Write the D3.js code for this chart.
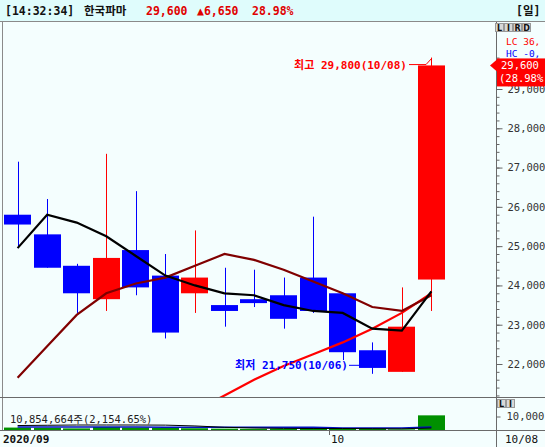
<!DOCTYPE html>
<html>
<head>
<meta charset="utf-8">
<script src="https://cdn.jsdelivr.net/npm/d3@7"></script>
<style>
  body { margin: 0; background: #f4fefe; }
  svg { display: block; }
  .mono { font-family: "DejaVu Sans Mono", "Noto Sans CJK KR", monospace; }
</style>
</head>
<body>
<div id="chart"></div>
<script>
// daily candles, 2020-09-15 .. 2020-10-08
const dates = ['09/15', '09/16', '09/17', '09/18', '09/21', '09/22', '09/23', '09/24', '09/25', '09/28', '09/29', '10/05', '10/06', '10/07', '10/08']
const opens = [25800, 25300, 24500, 23650, 24900, 24250, 23800, 23500, 23650, 23750, 24200, 23800, 22350, 21800, 24150]
const highs = [27150, 26200, 24550, 27350, 26400, 24800, 25400, 24450, 24400, 24200, 25750, 23800, 22550, 23950, 29800]
const lows = [25000, 24450, 23300, 23350, 23750, 22650, 23300, 22950, 23450, 22900, 23300, 22100, 21750, 21800, 23350]
const closes = [25550, 24450, 23800, 24700, 23950, 22800, 24200, 23350, 23550, 23150, 23350, 22300, 21900, 22950, 29600]

const ma5 = [24950, 25800, 25600, 25250, 24750, 24250, 24000, 23800, 23750, 23500, 23350, 23300, 22900, 22850, 23850]
const ma20 = [21650, 22450, 23250, 23800, 24050, 24200, 24500, 24800, 24650, 24400, 24100, 23800, 23450, 23350, 23750]
const ma60 = [null, null, null, null, null, null, 20800, 21200, 21600, 21950, 22250, 22550, 22900, 23300, 23800]

// volume in thousand shares
const volumes = [1800, 1600, 1200, 2200, 1800, 1500, 1300, 1000, 900, 1100, 2000, 1200, 1100, 504, 10855]
const volMaA = [3300, 3500, 3700, 3700, 3700, 3600, 3000, 2000, 1500, 1200, 1100, 1100, 1000, 900, 1500]
const volMaB = [2300, 2300, 2200, 2200, 2200, 2100, 2100, 2000, 2000, 2000, 2000, 1500, 1500, 1500, 2200]

const priceTicks = [22000, 23000, 24000, 25000, 26000, 27000, 28000, 29000]
const volTicks = [10000]
const monthLabels = [{ date: '09/15', text: '2020/09' }, { date: '10/05', text: '10' }]

const width = 545
const height = 447
const axisX = 496
const mainTop = 22
const mainBottom = 397
const volBottom = 430
const upColor = '#ff0000'
const downColor = '#0000ff'

let svg = d3.select('#chart')
            .append('svg')
            .attr('width', width)
            .attr('height', height)

svg.append('rect')
   .attr('width', width)
   .attr('height', height)
   .attr('fill', '#f4fefe')

// header
svg.append('rect')
   .attr('width', width)
   .attr('height', 21)
   .attr('fill', '#dffcfc')
svg.append('line')
   .attr('x1', 0).attr('x2', width)
   .attr('y1', 21.5).attr('y2', 21.5)
   .attr('stroke', '#8a8a8a')

const header = [
  { x: 5, text: '[14:32:34]', color: '#111' },
  { x: 84, text: '한국파마', color: '#111' },
  { x: 146, text: '29,600', color: '#e00000' },
  { x: 197, text: '▲6,650', color: '#e00000' },
  { x: 252, text: '28.98%', color: '#e00000' },
  { x: 516, text: '[일]', color: '#111' }
]
svg.selectAll('.head')
   .data(header)
   .enter()
   .append('text')
   .attr('class', 'head mono')
   .attr('x', d => d.x)
   .attr('y', 15)
   .attr('fill', d => d.color)
   .style('font-size', '11.5px')
   .style('font-weight', 'bold')
   .text(d => d.text)

// scales
let xScale = d3.scaleBand()
               .domain(dates)
               .range([4, 445])
               .paddingInner(0.08)
let bw = xScale.bandwidth()
let cx = d => Math.round(xScale(d) + bw / 2) + 0.5

let yScale = d3.scaleLinear()
               .domain([22000, 29000])
               .range([364, 89])

let vScale = d3.scaleLinear()
               .domain([0, 10000])
               .range([volBottom, 416.5])

svg.append('clipPath')
   .attr('id', 'mainClip')
   .append('rect')
   .attr('x', 3).attr('y', mainTop)
   .attr('width', axisX - 3).attr('height', mainBottom - mainTop)

let plot = svg.append('g').attr('clip-path', 'url(#mainClip)')

// candles
let candles = dates.map((d, i) => ({ d: d, o: opens[i], h: highs[i], l: lows[i], c: closes[i] }))

plot.selectAll('.wick')
    .data(candles)
    .enter()
    .append('line')
    .attr('class', 'wick')
    .attr('x1', d => cx(d.d)).attr('x2', d => cx(d.d))
    .attr('y1', d => yScale(d.h)).attr('y2', d => yScale(d.l))
    .attr('stroke', d => d.c >= d.o ? upColor : downColor)

plot.selectAll('.body')
    .data(candles)
    .enter()
    .append('rect')
    .attr('class', 'body')
    .attr('x', d => Math.round(xScale(d.d)))
    .attr('width', Math.round(bw))
    .attr('y', d => yScale(Math.max(d.o, d.c)))
    .attr('height', d => Math.max(1, Math.abs(yScale(d.o) - yScale(d.c))))
    .attr('fill', d => d.c >= d.o ? upColor : downColor)

// moving averages
let maLine = d3.line()
               .defined(d => d.v != null)
               .x(d => xScale(d.d) + bw / 2)
               .y(d => yScale(d.v))

const maSeries = [
  { values: ma60, color: '#ff0000' },
  { values: ma20, color: '#800000' },
  { values: ma5, color: '#000000' }
]
maSeries.forEach(s => {
  plot.append('path')
      .datum(dates.map((d, i) => ({ d: d, v: s.values[i] })))
      .attr('d', maLine)
      .attr('fill', 'none')
      .attr('stroke', s.color)
      .attr('stroke-width', 2.2)
})

// high / low markers
let hiIdx = highs.indexOf(d3.max(highs))
let loIdx = lows.indexOf(d3.min(lows))
let hiY = yScale(highs[hiIdx])
let loY = yScale(lows[loIdx])

plot.append('text')
    .attr('class', 'mono')
    .attr('x', 407).attr('y', hiY + 11)
    .attr('text-anchor', 'end')
    .attr('fill', '#ff0000')
    .style('font-size', '11px')
    .style('font-weight', 'bold')
    .text('최고 ' + d3.format(',')(highs[hiIdx]) + '(' + dates[hiIdx] + ')')
plot.append('polyline')
    .attr('points', [[409, hiY + 7], [426, hiY + 7], [cx(dates[hiIdx]), hiY + 1]].join(' '))
    .attr('fill', 'none')
    .attr('stroke', '#ff0000')

plot.append('text')
    .attr('class', 'mono')
    .attr('x', 348).attr('y', loY - 5)
    .attr('text-anchor', 'end')
    .attr('fill', '#0000ff')
    .style('font-size', '11px')
    .style('font-weight', 'bold')
    .text('최저 ' + d3.format(',')(lows[loIdx]) + '(' + dates[loIdx] + ')')
plot.append('line')
    .attr('x1', 349).attr('x2', Math.round(xScale(dates[loIdx])))
    .attr('y1', loY - 8.5).attr('y2', loY - 8.5)
    .attr('stroke', '#0000ff')

// volume panel
svg.selectAll('.vol')
   .data(volumes)
   .enter()
   .append('rect')
   .attr('class', 'vol')
   .attr('x', (d, i) => Math.round(xScale(dates[i])))
   .attr('width', Math.round(bw))
   .attr('y', d => vScale(d))
   .attr('height', d => volBottom - vScale(d))
   .attr('fill', '#009000')

let volLine = d3.line()
                .x((d, i) => xScale(dates[i]) + bw / 2)
                .y(d => vScale(d))
svg.append('path')
   .datum(volMaB)
   .attr('d', volLine)
   .attr('fill', 'none')
   .attr('stroke', '#0010c0')
   .attr('stroke-width', 1.5)
svg.append('path')
   .datum(volMaA)
   .attr('d', volLine)
   .attr('fill', 'none')
   .attr('stroke', '#000')
   .attr('stroke-width', 1)

svg.append('text')
   .attr('class', 'mono')
   .attr('x', 10).attr('y', 423)
   .attr('fill', '#222')
   .style('font-size', '10.5px')
   .text('10,854,664주(2,154.65%)')

// frame lines
svg.append('line')
   .attr('x1', 2.5).attr('x2', 2.5)
   .attr('y1', mainTop).attr('y2', volBottom)
   .attr('stroke', '#8a8a8a')
;[mainBottom, volBottom].forEach(yy => {
  svg.append('line')
     .attr('x1', 0).attr('x2', width)
     .attr('y1', yy + 0.5).attr('y2', yy + 0.5)
     .attr('stroke', '#6a6a6a')
})
svg.append('line')
   .attr('x1', axisX + 0.5).attr('x2', axisX + 0.5)
   .attr('y1', mainTop).attr('y2', height)
   .attr('stroke', '#6a6a6a')

// price axis
let minorAxis = d3.axisRight(yScale)
                  .tickValues(d3.range(21200, 30000, 200))
                  .tickSize(3)
                  .tickFormat('')
let priceAxis = d3.axisRight(yScale)
                  .tickValues(priceTicks)
                  .tickSize(6)
                  .tickPadding(5)
                  .tickFormat(d3.format(','))

let axG = svg.append('g').attr('clip-path', 'url(#axisClip)')
svg.append('clipPath')
   .attr('id', 'axisClip')
   .append('rect')
   .attr('x', axisX).attr('y', mainTop)
   .attr('width', width - axisX).attr('height', mainBottom - mainTop)

axG.append('g')
   .attr('transform', 'translate(' + (axisX + 0.5) + ',0)')
   .call(minorAxis)
   .call(g => g.select('.domain').remove())
   .selectAll('line').attr('stroke', '#666')
axG.append('g')
   .attr('transform', 'translate(' + (axisX + 0.5) + ',0)')
   .call(priceAxis)
   .call(g => g.select('.domain').remove())
   .call(g => g.selectAll('line').attr('stroke', '#666'))
   .selectAll('text')
   .attr('class', 'mono')
   .attr('fill', '#333')
   .style('font-size', '10.5px')

// legend buttons
const btns = ['L', 'I', 'R', 'D']
btns.forEach((b, i) => {
  svg.append('rect')
     .attr('x', 495 + i * 9 + 0.5).attr('y', 23.5)
     .attr('width', 8).attr('height', 8)
     .attr('fill', '#d8d8d8').attr('stroke', '#999')
  svg.append('text')
     .attr('x', 499.5 + i * 9).attr('y', 30.5)
     .attr('text-anchor', 'middle')
     .attr('fill', '#111')
     .style('font', 'bold 8px "DejaVu Sans"')
     .text(b)
})
;['L', 'I'].forEach((b, i) => {
  svg.append('rect')
     .attr('x', 497 + i * 9 + 0.5).attr('y', 399.5)
     .attr('width', 8).attr('height', 8)
     .attr('fill', '#d8d8d8').attr('stroke', '#999')
  svg.append('text')
     .attr('x', 501.5 + i * 9).attr('y', 406.5)
     .attr('text-anchor', 'middle')
     .attr('fill', '#111')
     .style('font', 'bold 8px "DejaVu Sans"')
     .text(b)
})

svg.append('text')
   .attr('class', 'mono')
   .attr('x', 506).attr('y', 45)
   .attr('fill', '#ff0000')
   .style('font-size', '9.5px')
   .text('LC 36,')
svg.append('text')
   .attr('class', 'mono')
   .attr('x', 506).attr('y', 56.5)
   .attr('fill', '#0000ff')
   .style('font-size', '9.5px')
   .text('HC -0,')

// current price flag
let lastY = yScale(closes[closes.length - 1])
svg.append('rect')
   .attr('x', 497).attr('y', lastY - 7)
   .attr('width', 48).attr('height', 28)
   .attr('fill', '#ff0000')
svg.append('path')
   .attr('d', 'M490,' + lastY + 'L497,' + (lastY - 6) + 'L497,' + (lastY + 6) + 'Z')
   .attr('fill', '#ff0000')
svg.append('text')
   .attr('class', 'mono')
   .attr('x', 501).attr('y', lastY + 4)
   .attr('fill', '#fff')
   .style('font-size', '10.5px')
   .text(d3.format(',')(closes[closes.length - 1]))
svg.append('text')
   .attr('class', 'mono')
   .attr('x', 499).attr('y', lastY + 17)
   .attr('fill', '#fff')
   .style('font-size', '10.5px')
   .text('(28.98%')

// volume axis
let volAxis = d3.axisRight(vScale)
                .tickValues(volTicks)
                .tickSize(4)
                .tickPadding(6)
                .tickFormat(d3.format(','))
svg.append('g')
   .attr('transform', 'translate(' + (axisX + 0.5) + ',0)')
   .call(volAxis)
   .call(g => g.select('.domain').remove())
   .call(g => g.selectAll('line').attr('stroke', '#666'))
   .selectAll('text')
   .attr('class', 'mono')
   .attr('fill', '#333')
   .style('font-size', '10.5px')

// date axis
svg.selectAll('.month')
   .data(monthLabels)
   .enter()
   .append('text')
   .attr('class', 'month mono')
   .attr('x', (d, i) => i === 0 ? 3 : Math.round(xScale(d.date)) + 2)
   .attr('y', 443)
   .attr('fill', '#111')
   .style('font-size', '11px')
   .style('font-weight', (d, i) => i === 0 ? 'bold' : 'normal')
   .text(d => d.text)
svg.append('line')
   .attr('x1', Math.round(xScale('10/05')) + 0.5).attr('x2', Math.round(xScale('10/05')) + 0.5)
   .attr('y1', volBottom).attr('y2', volBottom + 5)
   .attr('stroke', '#666')
svg.append('text')
   .attr('class', 'mono')
   .attr('x', 505).attr('y', 443)
   .attr('fill', '#111')
   .style('font-size', '11px')
   .text(dates[dates.length - 1])
</script>
</body>
</html>
